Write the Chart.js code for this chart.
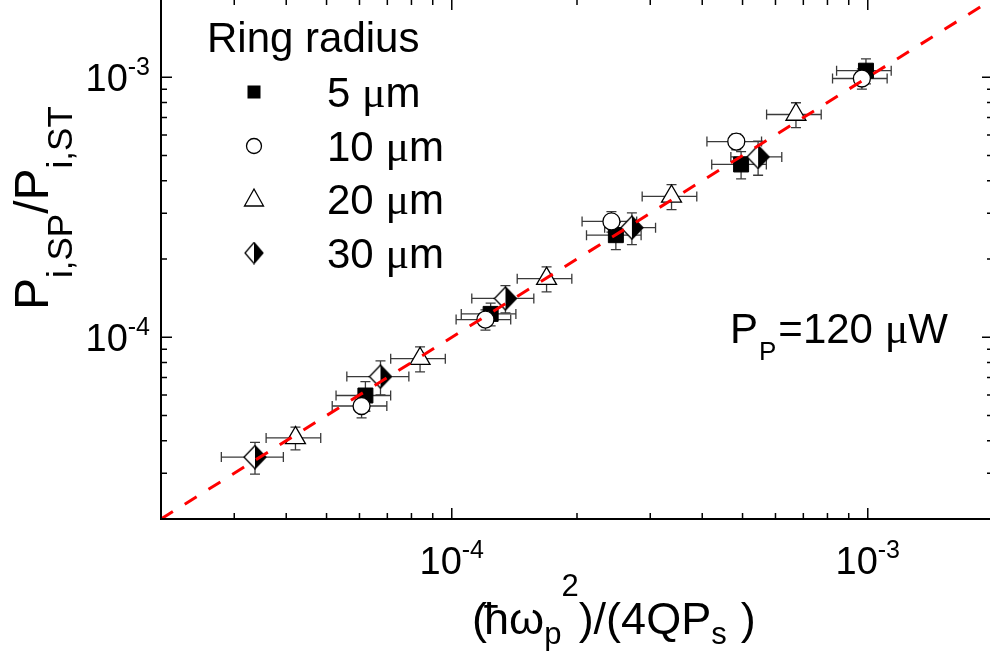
<!DOCTYPE html>
<html><head><meta charset="utf-8">
<script src="https://cdn.jsdelivr.net/npm/chart.js@4/dist/chart.umd.min.js"></script>
<style>
html,body{margin:0;padding:0;overflow:hidden;background:#fff;width:990px;height:655px;}
#wrap{position:absolute;left:0;top:-17px;width:1009px;height:672px;}
</style></head><body>
<div id="wrap"><canvas id="c" width="1009" height="672"></canvas></div>
<script>
// ---- data ----
const seriesNumbers = ['5 ', '10 ', '20 ', '30 '];
const unitMu = '\u03bc', unitRest = 'm';
const legendTitle = 'Ring radius';

const x5  = [6.20e-5, 1.24e-4, 2.48e-4, 4.96e-4, 9.90e-4];
const y5  = [5.97e-5, 1.23e-4, 2.47e-4, 4.62e-4, 1.06e-3];
const x10 = [6.07e-5, 1.205e-4, 2.42e-4, 4.83e-4, 9.68e-4];
const y10 = [5.44e-5, 1.17e-4, 2.79e-4, 5.66e-4, 9.89e-4];
const x20 = [4.21e-5, 8.39e-5, 1.69e-4, 3.375e-4, 6.72e-4];
const y20 = [4.10e-5, 8.27e-5, 1.68e-4, 3.48e-4, 7.19e-4];
const x30 = [3.365e-5, 6.74e-5, 1.346e-4, 2.71e-4, 5.45e-4];
const y30 = [3.46e-5, 7.06e-5, 1.41e-4, 2.64e-4, 4.94e-4];

// error bars, percent of the value
const xErr5  = [15, 15, 15, 15, 15];
const yErr5  = [13, 10, 12, 12, 11];
const xErr10 = [15, 15, 15, 15, 15];
const yErr10 = [10, 9, 9, 7, 9];
const xErr20 = [15, 15, 15, 15, 15];
const yErr20 = [10, 11, 11, 11, 11];
const xErr30 = [17, 17, 17, 14, 14];
const yErr30 = [14, 15, 12, 14, 15];

// guide line y = x
const guideX = [2e-5, 2e-3];
const guideY = [2e-5, 2e-3];

// axes
const axisMin = 2e-5, axisMax = 2e-3;
const decades = [1e-5, 1e-4, 1e-3];
const minorMult = [2, 3, 4, 5, 6, 7, 8, 9];
const majorTicks = [1e-4, 1e-3];
const majorExp = ['-4', '-3'];

const annotation = {main: 'P', sub: 'P', rest: '=120 ', mu: '\u03bc', unit: 'W'};

const FONT = "'Liberation Sans', Arial, sans-serif";
const SERIF = "'Liberation Serif', 'Times New Roman', serif";
const OY = 17; // canvas offset (page y = canvas y - OY)

// ---- half-filled diamond marker ----
function makeDiamond(w, h) {
  const c = document.createElement('canvas');
  c.width = w + 2; c.height = h + 2;
  const g = c.getContext('2d');
  const cx = c.width / 2, cy = c.height / 2;
  const path = () => { g.beginPath(); g.moveTo(cx, cy - h / 2); g.lineTo(cx + w / 2, cy); g.lineTo(cx, cy + h / 2); g.lineTo(cx - w / 2, cy); g.closePath(); };
  path(); g.fillStyle = '#fff'; g.fill();
  g.beginPath(); g.moveTo(cx, cy - h / 2); g.lineTo(cx + w / 2, cy); g.lineTo(cx, cy + h / 2); g.closePath();
  g.fillStyle = '#000'; g.fill();
  path(); g.lineWidth = 1.3; g.strokeStyle = '#000'; g.stroke();
  return c;
}
const diamondImg = makeDiamond(22, 23);
const diamondLegend = makeDiamond(18, 21);

function pts(xs, ys) { return xs.map((v, i) => ({x: v, y: ys[i]})); }

const errSets = [
  {xs: x5, ys: y5, xe: xErr5, ye: yErr5},
  {xs: x10, ys: y10, xe: xErr10, ye: yErr10},
  {xs: x20, ys: y20, xe: xErr20, ye: yErr20},
  {xs: x30, ys: y30, xe: xErr30, ye: yErr30}
];

function drawRuns(ctx, runs, x, y) {
  let cx = x;
  for (const r of runs) {
    ctx.font = r.size + 'px ' + (r.font || FONT);
    ctx.fillText(r.t, cx, y + (r.dy || 0));
    cx += ctx.measureText(r.t).width + (r.gap || 0);
  }
  return cx - x;
}
function runsWidth(ctx, runs) {
  let w = 0;
  for (const r of runs) { ctx.font = r.size + 'px ' + (r.font || FONT); w += ctx.measureText(r.t).width + (r.gap || 0); }
  return w;
}

const customPlugin = {
  id: 'customDraw',
  beforeDatasetsDraw(chart) {
    const ctx = chart.ctx, xs = chart.scales.x, ys = chart.scales.y;
    ctx.save();
    ctx.strokeStyle = '#3a3a3a';
    ctx.lineWidth = 1.3;
    const cap = 5;
    for (const s of errSets) {
      s.xs.forEach((xv, i) => {
        const yv = s.ys[i];
        const ex = xv * s.xe[i] / 100, ey = yv * s.ye[i] / 100;
        const px = xs.getPixelForValue(xv), py = ys.getPixelForValue(yv);
        const xl = xs.getPixelForValue(xv - ex), xr = xs.getPixelForValue(xv + ex);
        const yt = ys.getPixelForValue(yv + ey), yb = ys.getPixelForValue(yv - ey);
        ctx.beginPath();
        ctx.moveTo(xl, py); ctx.lineTo(xr, py);
        ctx.moveTo(xl, py - cap); ctx.lineTo(xl, py + cap);
        ctx.moveTo(xr, py - cap); ctx.lineTo(xr, py + cap);
        ctx.moveTo(px, yt); ctx.lineTo(px, yb);
        ctx.moveTo(px - cap, yt); ctx.lineTo(px + cap, yt);
        ctx.moveTo(px - cap, yb); ctx.lineTo(px + cap, yb);
        ctx.stroke();
      });
    }
    ctx.restore();
  },
  afterDraw(chart) {
    const ctx = chart.ctx, xs = chart.scales.x, ys = chart.scales.y;
    const a = chart.chartArea;
    ctx.save();
    // frame
    ctx.strokeStyle = '#000';
    ctx.lineWidth = 2;
    ctx.strokeRect(a.left, a.top, a.right - a.left, a.bottom - a.top);
    // ticks
    ctx.lineWidth = 1.5;
    const ticks = [];
    decades.forEach(d => {
      ticks.push({v: d, major: true});
      minorMult.forEach(m => ticks.push({v: d * m, major: false}));
    });
    ctx.beginPath();
    ticks.forEach(t => {
      if (t.v <= axisMin || t.v >= axisMax) return;
      const len = t.major ? 11 : 6;
      const px = xs.getPixelForValue(t.v);
      ctx.moveTo(px, a.bottom); ctx.lineTo(px, a.bottom - len);
      ctx.moveTo(px, a.top); ctx.lineTo(px, a.top + len);
      const py = ys.getPixelForValue(t.v);
      ctx.moveTo(a.left, py); ctx.lineTo(a.left + len, py);
      ctx.moveTo(a.right, py); ctx.lineTo(a.right - len, py);
    });
    ctx.stroke();

    ctx.fillStyle = '#000';
    ctx.textBaseline = 'alphabetic';
    ctx.textAlign = 'left';
    // tick labels
    majorTicks.forEach((v, i) => {
      const runs = [{t: '10', size: 38}, {t: majorExp[i], size: 25, dy: -16}];
      const w = runsWidth(ctx, runs);
      const py = ys.getPixelForValue(v);
      drawRuns(ctx, runs, 150 - w, py + 14);
      const px = xs.getPixelForValue(v);
      drawRuns(ctx, runs, px - w / 2, a.bottom + 55);
    });

    // y title
    ctx.save();
    ctx.translate(48, 310 + OY);
    ctx.rotate(-Math.PI / 2);
    drawRuns(ctx, [
      {t: 'P', size: 48}, {t: 'i,SP', size: 35, dy: 24},
      {t: '/', size: 48}, {t: 'P', size: 48}, {t: 'i,ST', size: 35, dy: 24}
    ], 0, 0);
    ctx.restore();

    // x title
    const xt = [
      {t: '(', size: 45, gap: -3}, {t: '\u0127\u03c9', size: 45}, {t: 'p', size: 31, dy: 10, gap: 0}, {t: '2', size: 31, dy: -38},
      {t: ')/(4QP', size: 45}, {t: 's', size: 31, dy: 10, gap: 14}, {t: ')', size: 45}
    ];
    drawRuns(ctx, xt, 472, 634 + OY);

    // legend
    ctx.font = '42px ' + FONT;
    ctx.fillText(legendTitle, 207, 52 + OY);
    const rowY = [92, 146, 199, 253].map(v => v + OY);
    const mx = 254;
    ctx.fillStyle = '#000';
    ctx.fillRect(mx - 6.5, rowY[0] - 6.5, 13, 13);
    ctx.beginPath(); ctx.arc(mx, rowY[1], 7.5, 0, Math.PI * 2);
    ctx.fillStyle = '#fff'; ctx.fill(); ctx.lineWidth = 1.3; ctx.strokeStyle = '#000'; ctx.stroke();
    ctx.beginPath();
    ctx.moveTo(mx, rowY[2] - 10); ctx.lineTo(mx + 9.5, rowY[2] + 7); ctx.lineTo(mx - 9.5, rowY[2] + 7); ctx.closePath();
    ctx.fillStyle = '#fff'; ctx.fill(); ctx.stroke();
    ctx.drawImage(diamondLegend, mx - diamondLegend.width / 2, rowY[3] - diamondLegend.height / 2);
    ctx.fillStyle = '#000';
    seriesNumbers.forEach((n, i) => drawRuns(ctx, [
      {t: n, size: 42}, {t: unitMu, size: 44, font: SERIF}, {t: unitRest, size: 42}
    ], 327, rowY[i] + 15));

    // annotation
    drawRuns(ctx, [
      {t: annotation.main, size: 42, gap: 1}, {t: annotation.sub, size: 26, dy: 17, gap: 2},
      {t: annotation.rest, size: 42}, {t: annotation.mu, size: 44, font: SERIF}, {t: annotation.unit, size: 42}
    ], 730, 343 + OY);
    ctx.restore();
  }
};

new Chart(document.getElementById('c'), {
  type: 'scatter',
  data: {
    datasets: [
      {label: 'fit', type: 'line', data: pts(guideX, guideY), borderColor: '#ff0000', borderWidth: 3,
       borderDash: [14, 14], pointRadius: 0, fill: false, order: 0, tension: 0},
      {label: '30', data: pts(x30, y30), pointStyle: diamondImg, pointRadius: 11, order: 1},
      {label: '20', data: pts(x20, y20), pointStyle: 'triangle', pointRadius: 11.5,
       backgroundColor: '#fff', borderColor: '#000', pointBorderWidth: 1.3, order: 2},
      {label: '10', data: pts(x10, y10), pointStyle: 'circle', pointRadius: 8.5,
       backgroundColor: '#fff', borderColor: '#000', pointBorderWidth: 1.3, order: 3},
      {label: '5', data: pts(x5, y5), pointStyle: 'rect', pointRadius: 10.6,
       backgroundColor: '#000', borderColor: '#000', pointBorderWidth: 1, order: 4}
    ]
  },
  options: {
    responsive: false,
    devicePixelRatio: 1,
    animation: false,
    events: [],
    layout: {padding: {left: 161, right: 16, top: 16, bottom: 136}},
    plugins: {legend: {display: false}, tooltip: {enabled: false}},
    scales: {
      x: {type: 'logarithmic', min: axisMin, max: axisMax, display: false},
      y: {type: 'logarithmic', min: axisMin, max: axisMax, display: false}
    }
  },
  plugins: [customPlugin]
});
</script>
</body></html>
